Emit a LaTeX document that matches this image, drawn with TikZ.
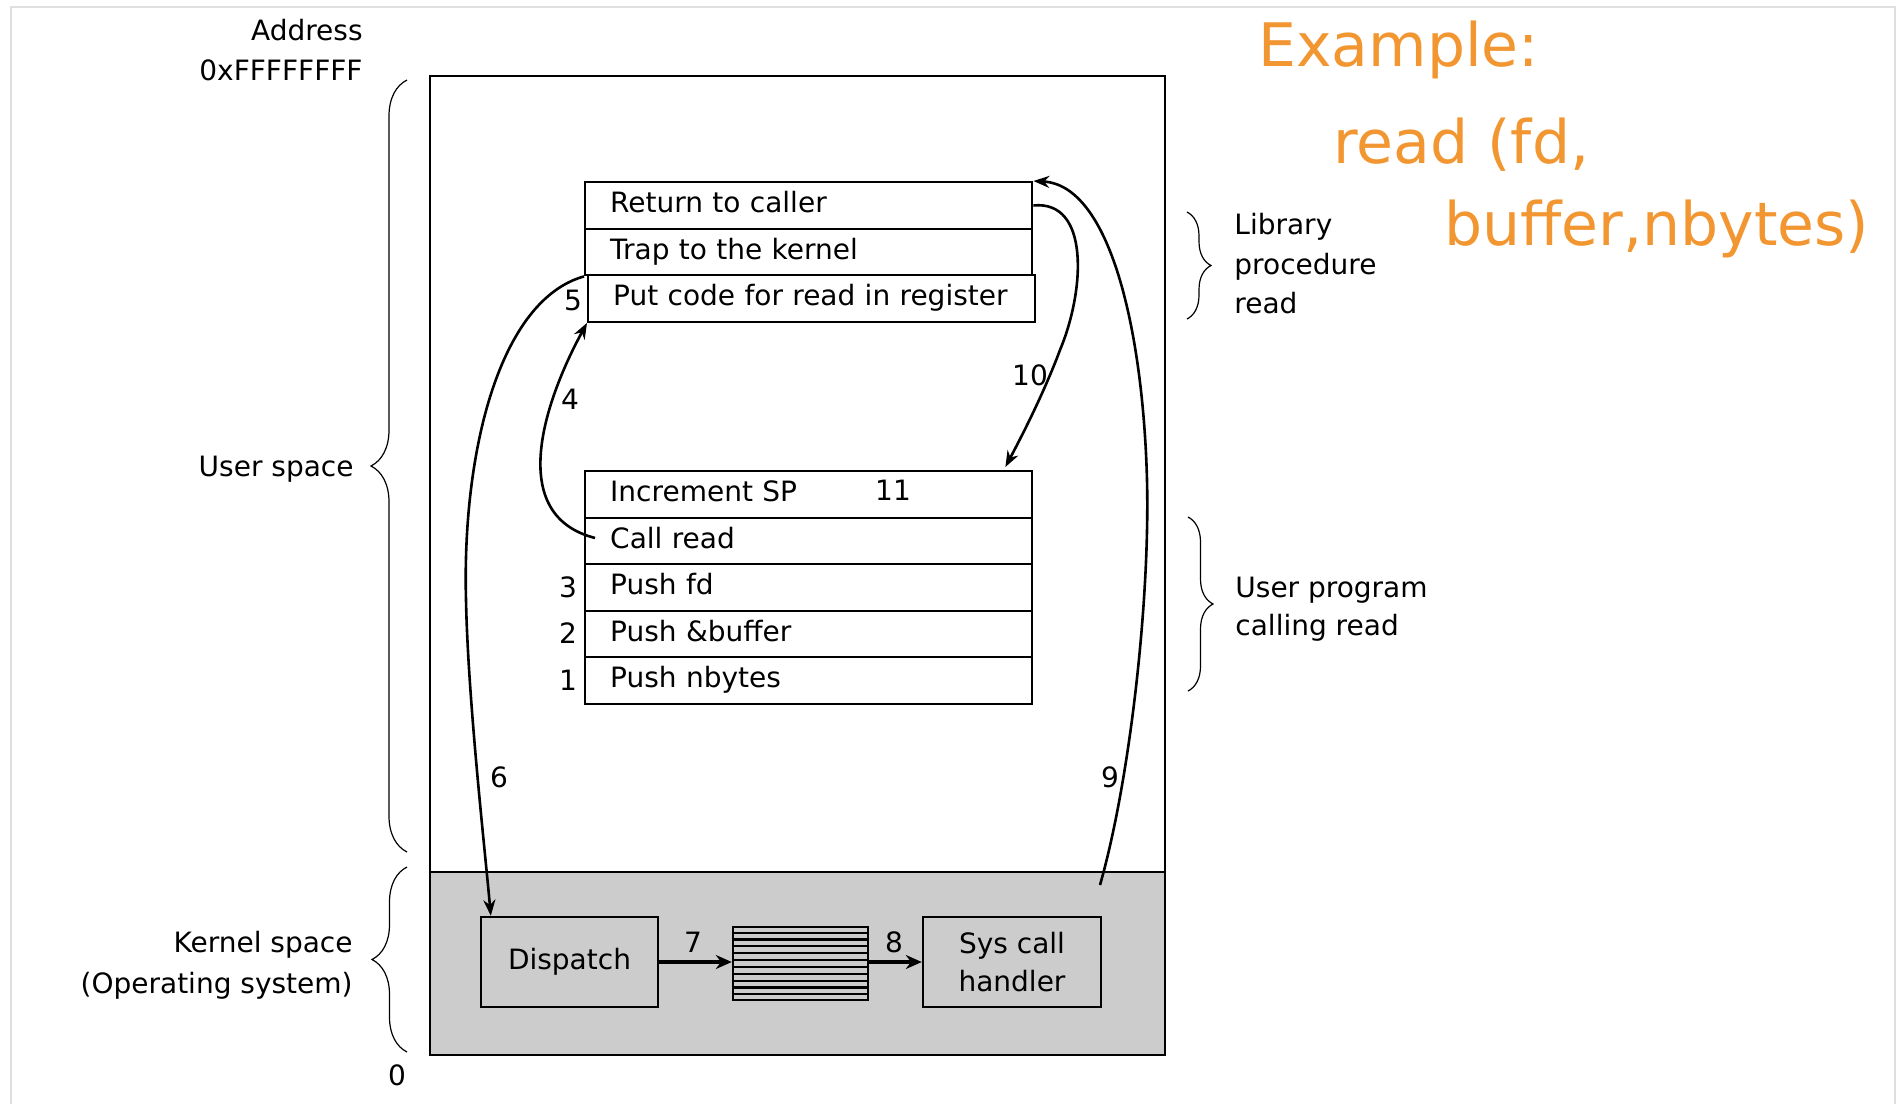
\documentclass[tikz,border=0pt]{standalone}
\usepackage{fontspec}
\setmainfont{DejaVu Sans}
\usetikzlibrary{arrows.meta, decorations.pathreplacing, calc}
\definecolor{kgray}{RGB}{204,204,204}
\definecolor{orng}{RGB}{242,150,50}
\begin{document}
\begin{tikzpicture}[x=0.5pt, y=-0.5pt,
  every node/.style={font=\fontsize{14}{17}\selectfont, inner sep=0pt},
  rowbox/.style={draw, line width=1.2pt, anchor=north west, minimum width=223.5pt,
    minimum height=23.25pt, text width=198.5pt, inner xsep=12.5pt, align=left,
    text height=10.5pt, text depth=3pt},
  kbox/.style={draw, line width=1.2pt, minimum height=45pt},
  arr/.style={line width=1.3pt, -{Stealth[length=8pt, width=6pt]}},
  fatarr/.style={line width=1.7pt, -{Stealth[length=8pt, width=7pt]}},
  brc/.style={decorate, line width=0.6pt},
  lbl/.style={anchor=base east},
  rlbl/.style={anchor=base west},
  ex/.style={anchor=base west, text=orng, font=\fontsize{30}{36}\selectfont}]
\useasboundingbox (0,0) rectangle (1900,1104);
% faint frame
\draw[gray!25, line width=0.6pt] (11,1104) -- (11,7) -- (1895,7) -- (1895,1104);

% main memory box
\fill[kgray] (430,872) rectangle (1165,1055);
\draw[line width=1.2pt] (430,76) rectangle (1165,1055);
\draw[line width=1.2pt] (430,872) -- (1165,872);

% library procedure rows
\node[rowbox] (lib1) at (584,181) {Return to caller};
\node[rowbox] (lib2) at (584,227.5) {Trap to the kernel};
\node[rowbox] (lib3) at (587,274) {Put code for read in register};

% user program rows
\node[rowbox] (usr1) at (584,470) {Increment SP};
\node[rowbox] (usr2) at (584,516.5) {Call read};
\node[rowbox] (usr3) at (584,563) {Push fd};
\node[rowbox] (usr4) at (584,609.5) {Push \&buffer};
\node[rowbox] (usr5) at (584,656) {Push nbytes};

% kernel boxes
\node[kbox, minimum width=88.5pt] (dispatch) at (569.5,962) {Dispatch};
\node[draw, line width=1.2pt, minimum width=67.5pt, minimum height=36.5pt] (stripes) at (800.5,963.5) {};
\foreach \i in {1,...,10}
  \draw[line width=1.1pt] ($(stripes.north west)!\i/11!(stripes.south west)$) -- ($(stripes.north east)!\i/11!(stripes.south east)$);
\node[kbox, minimum width=89pt, align=center, font=\fontsize{14}{19}\selectfont] (syscall) at (1012,962) {Sys call\\handler};

% arrows
\draw[fatarr] (dispatch.east) -- (dispatch.east -| stripes.west);
\draw[fatarr] (stripes.east |- dispatch.east) -- (syscall.west);
\draw[arr] ($(usr2.west)+(11,-3)$) .. controls (505,515) and (545,400) .. (lib3.south west);
\draw[arr] (lib2.south west) .. controls (500,300) and (462,450) .. (466,600)
  .. controls (468,700) and (485,850) .. ($(dispatch.north west)+(11,0)$);
\coordinate (k9) at (1100,885);
\draw[arr] (k9) .. controls (1130,780) and (1150,600) .. (1147,480)
  .. controls (1143,330) and (1110,185) .. (lib1.north east);
\draw[arr] (lib1.east) .. controls (1090,200) and (1085,290) .. (1060,350)
  .. controls (1045,390) and (1025,430) .. ($(usr1.north east)+(-28,-3)$);

% step numbers
\node (n1) at (568,680) {1};
\node (n2) at (568,633) {2};
\node (n3) at (568,587) {3};
\node (n4) at (570,399) {4};
\node (n5) at (573,300) {5};
\node (n6) at (499,777) {6};
\node (n7) at (693,942) {7};
\node (n8) at (894,942) {8};
\node (n9) at (1110,777) {9};
\node (n10) at (1030,375) {10};
\node (n11) at (893,490) {11};

% left labels and braces
\node[lbl] (addr) at (363,40) {Address};
\node[lbl] (addrtop) at (363,80) {0xFFFFFFFF};
\node (zero) at (397,1075) {0};
\draw[brc, decoration={brace, amplitude=18pt}] (407,852) -- (407,80);
\node[lbl] (uspace) at (354,476) {User space};
\draw[brc, decoration={brace, amplitude=17.5pt}] (407,1052) -- (407,867);
\node[lbl] (kspace1) at (353,952) {Kernel space};
\node[lbl] (kspace2) at (353,993) {(Operating system)};

% right labels and braces
\draw[brc, decoration={brace, amplitude=12pt}] (1187,212) -- (1187,319);
\node[rlbl] (lib-t1) at (1234,234) {Library};
\node[rlbl] (lib-t2) at (1234,274) {procedure};
\node[rlbl] (lib-t3) at (1234,313) {read};
\draw[brc, decoration={brace, amplitude=12.5pt}] (1188,517) -- (1188,691);
\node[rlbl] (up-t1) at (1235,597) {User program};
\node[rlbl] (up-t2) at (1235,635) {calling read};

% orange example
\node[ex] (ex1) at (1258,66) {Example:};
\node[ex] (ex2) at (1333,163) {read (fd,};
\node[ex] (ex3) at (1444,245) {buffer,nbytes)};
\end{tikzpicture}
\end{document}
